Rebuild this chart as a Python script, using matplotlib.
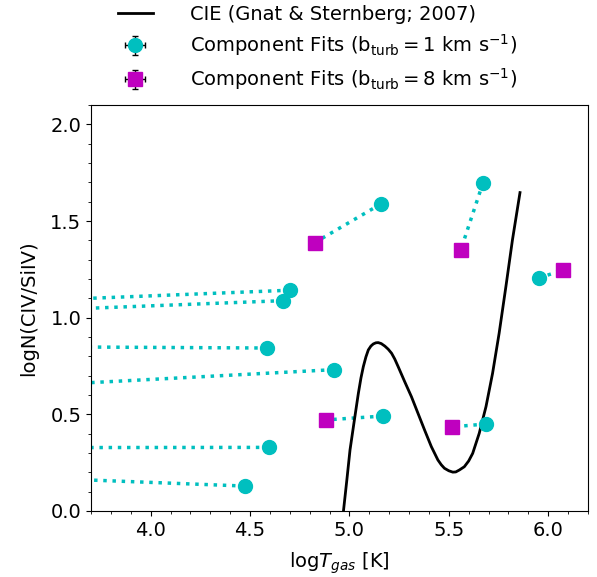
import numpy as np
import matplotlib as mpl
mpl.use('Agg')
import matplotlib.pyplot as plt

# CIE curve (Gnat & Sternberg 2007)
cieLogT = [4.970, 4.987, 5.003, 5.025, 5.045, 5.058, 5.070, 5.083, 5.095, 5.108,
           5.120, 5.133, 5.145, 5.160, 5.178, 5.195, 5.212, 5.228, 5.245, 5.278,
           5.312, 5.345, 5.378, 5.412, 5.445, 5.462, 5.478, 5.500, 5.520, 5.535,
           5.553, 5.578, 5.600, 5.620, 5.653, 5.687, 5.720, 5.753, 5.787, 5.820, 5.858]
cieRatio = [0.000, 0.160, 0.316, 0.471, 0.609, 0.688, 0.747, 0.797, 0.833, 0.853,
            0.864, 0.870, 0.871, 0.866, 0.853, 0.837, 0.816, 0.786, 0.747, 0.669,
            0.591, 0.505, 0.419, 0.333, 0.264, 0.239, 0.221, 0.208, 0.201, 0.202,
            0.212, 0.229, 0.259, 0.298, 0.402, 0.540, 0.712, 0.919, 1.160, 1.402, 1.647]

# component fits, b_turb = 1 km/s
b1LogT = [5.158, 5.672, 5.953, 5.167, 5.687, 4.700, 4.667, 4.585, 4.920, 4.593, 4.473]
b1Ratio = [1.588, 1.698, 1.205, 0.491, 0.450, 1.142, 1.088, 0.843, 0.731, 0.329, 0.129]

# component fits, b_turb = 8 km/s (last six fall off the left of the plot)
b8LogT = [4.825, 5.560, 6.075, 4.880, 5.515, 3.500, 3.500, 3.500, 3.500, 3.500, 3.500]
b8Ratio = [1.388, 1.350, 1.247, 0.471, 0.435, 1.092, 1.041, 0.849, 0.653, 0.328, 0.168]

fig = plt.figure(figsize=(5.97, 5.77), dpi=100)
ax = fig.add_axes([0.1524, 0.1144, 0.8325, 0.7036])

for i in range(len(b1LogT)):
    ax.plot([b1LogT[i], b8LogT[i]], [b1Ratio[i], b8Ratio[i]], ls=':', color='c', lw=2.5, zorder=1)

ax.plot(cieLogT, cieRatio, color='k', lw=2, label='CIE (Gnat & Sternberg; 2007)', zorder=2)

ax.errorbar(b1LogT, b1Ratio, xerr=np.zeros(len(b1LogT)), yerr=np.zeros(len(b1LogT)),
            fmt='o', color='c', ms=10, ecolor='k', capsize=2, elinewidth=1, zorder=3,
            label=r'Component Fits ($\mathrm{b_{turb}=1}$ km s$^{-1}$)')
ax.errorbar(b8LogT, b8Ratio, xerr=np.zeros(len(b8LogT)), yerr=np.zeros(len(b8LogT)),
            fmt='s', color='m', ms=10, ecolor='k', capsize=2, elinewidth=1, zorder=3,
            label=r'Component Fits ($\mathrm{b_{turb}=8}$ km s$^{-1}$)')

ax.set_xlim(3.7, 6.2)
ax.set_ylim(0.0, 2.1)
ax.set_xticks([4.0, 4.5, 5.0, 5.5, 6.0])
ax.set_yticks([0.0, 0.5, 1.0, 1.5, 2.0])
ax.minorticks_on()
ax.tick_params(labelsize=14)
ax.set_xlabel(r'log$T_{gas}$ [K]', fontsize=14, labelpad=8)
ax.set_ylabel('logN(CIV/SiIV)', fontsize=14, labelpad=9)

ax.legend(loc='lower center', bbox_to_anchor=(0.455, 0.988), frameon=False, fontsize=14,
          handlelength=1.8, handletextpad=1.9, labelspacing=0.42)

fig.savefig('out.png', dpi=100)
